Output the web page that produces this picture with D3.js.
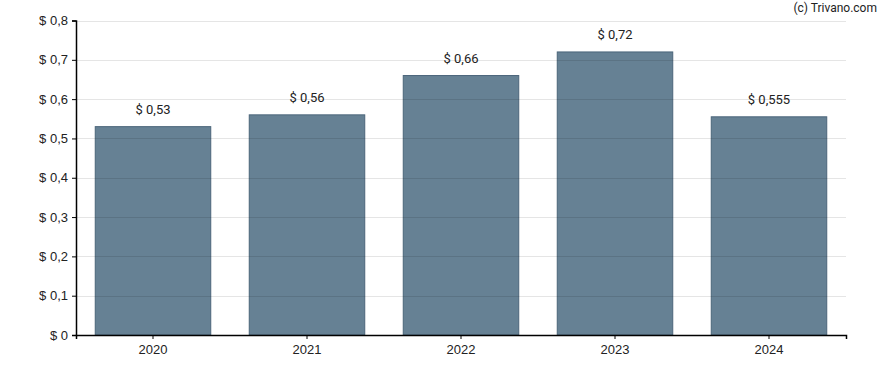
<!DOCTYPE html>
<html>
<head>
<meta charset="utf-8">
<script src="https://cdn.jsdelivr.net/npm/d3@7"></script>
<style>
  body { margin: 0; background: #fff; }
  svg { font-family: Roboto, sans-serif; }
  .axis .domain { stroke: #000; stroke-width: 1.5px; }
  .axis .tick line { stroke: #000; }
  .axis .tick text { font-size: 13px; fill: #222; }
  .grid line { stroke: #e3e3e3; stroke-width: 1px; }
</style>
</head>
<body>
<svg width="888" height="370"></svg>
<script>
const years = ['2020', '2021', '2022', '2023', '2024']
const values = [0.53, 0.56, 0.66, 0.72, 0.555]
const valueLabels = ['$ 0,53', '$ 0,56', '$ 0,66', '$ 0,72', '$ 0,555']
const yTicks = [0, 0.1, 0.2, 0.3, 0.4, 0.5, 0.6, 0.7, 0.8]

const width = 888
const height = 370
const margin = { top: 20.5, right: 42, bottom: 35, left: 76 }

const svg = d3.select('svg')

const xScale = d3.scaleBand(years, [margin.left, width - margin.right])
  .paddingInner(0.25)
  .paddingOuter(0.125)

const yScale = d3.scaleLinear([0, 0.8], [height - margin.bottom, margin.top])

const fmt = v => '$ ' + String(v).replace('.', ',')

// Bars
svg.append('g')
  .selectAll('rect')
  .data(years)
  .join('rect')
  .attr('x', d => xScale(d))
  .attr('y', (d, i) => yScale(values[i]))
  .attr('width', xScale.bandwidth())
  .attr('height', (d, i) => yScale(0) - yScale(values[i]))
  .style('fill', '#668194')
  .style('stroke', '#4b657a')
  .style('stroke-width', 1)

// Grid (drawn over bars, faint)
svg.append('g')
  .classed('grid', true)
  .selectAll('line')
  .data(yTicks.slice(1))
  .join('line')
  .attr('x1', margin.left)
  .attr('x2', width - margin.right)
  .attr('y1', d => Math.round(yScale(d)) + 0.5)
  .attr('y2', d => Math.round(yScale(d)) + 0.5)
  .style('stroke', 'rgba(0,0,0,0.1)')

// Value labels
svg.append('g')
  .selectAll('text')
  .data(years)
  .join('text')
  .attr('x', d => xScale(d) + xScale.bandwidth() / 2)
  .attr('y', (d, i) => yScale(values[i]) - 13)
  .attr('text-anchor', 'middle')
  .style('font-size', '13px')
  .style('fill', '#222')
  .text((d, i) => valueLabels[i])

// X Axis
const xAxis = d3.axisBottom(xScale).tickSizeOuter(0).tickSize(4).tickPadding(6)
svg.append('g')
  .classed('axis', true)
  .attr('transform', `translate(0,${ yScale(0) })`)
  .call(xAxis)

// Y Axis
const yAxis = d3.axisLeft(yScale)
  .tickValues(yTicks)
  .tickFormat(fmt)
  .tickSizeOuter(0)
  .tickSize(4)
  .tickPadding(4)
svg.append('g')
  .classed('axis', true)
  .attr('transform', `translate(${ margin.left },0)`)
  .call(yAxis)

// Credit
svg.append('text')
  .attr('x', 877)
  .attr('y', 12)
  .attr('text-anchor', 'end')
  .style('font-size', '12px')
  .style('fill', '#222')
  .text('(c) Trivano.com')
</script>
</body>
</html>
